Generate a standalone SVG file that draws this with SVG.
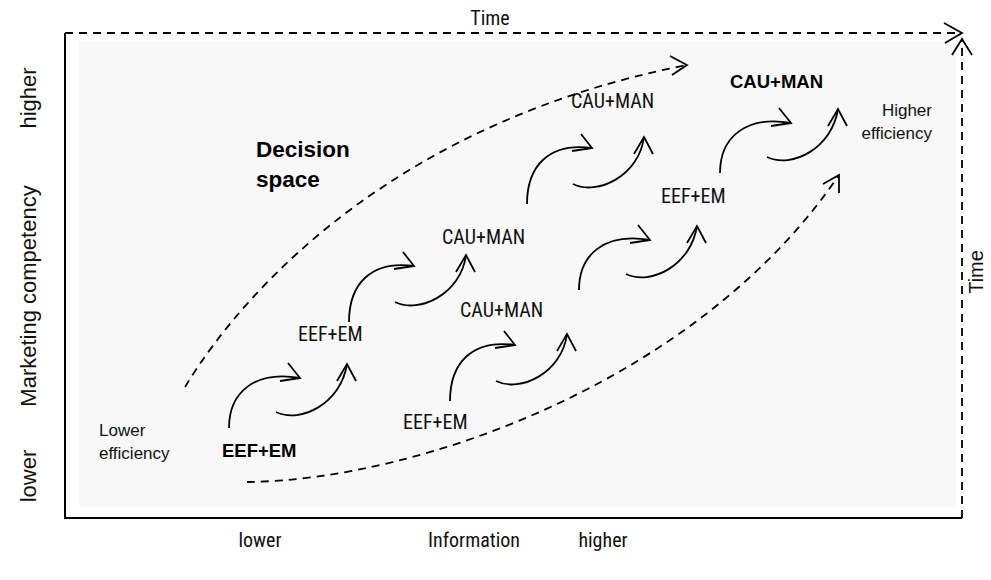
<svg xmlns="http://www.w3.org/2000/svg" xmlns:xlink="http://www.w3.org/1999/xlink" width="991" height="580" viewBox="0 0 991 580">
<style>
.ln{fill:none;stroke:#000;stroke-width:1.8}
.ds{fill:none;stroke:#000;stroke-width:1.8;stroke-dasharray:8 6}
.ax{fill:none;stroke:#000;stroke-width:2}
.nr{font-family:"Liberation Sans Narrow","Roboto Condensed","Arial Narrow",sans-serif;font-size:20px;fill:#111}
.bd{font-family:"Liberation Sans",Arial,sans-serif;font-weight:bold;fill:#000}
.ar{font-family:"Liberation Sans",Arial,sans-serif;fill:#111}
</style>
<defs>
<g id="pairA">
<path class="ln" d="M0,0 C0,-35 25,-58 71,-50"/>
<path class="ln" d="M59,-65 L71,-50 L51,-47"/>
<path class="ln" d="M47,-16 C72,-4 112,-25 118,-64"/>
<path class="ln" d="M108,-47 L118,-64 L127,-47"/>
</g>
<g id="pairB">
<path class="ln" d="M0,0 C0,-38 22,-62 65,-56"/>
<path class="ln" d="M54,-70 L65,-56 L45,-53"/>
<path class="ln" d="M46,-20 C70,-8 112,-28 117,-67"/>
<path class="ln" d="M107,-50 L117,-67 L126,-50"/>
</g>
</defs>
<rect x="0" y="0" width="991" height="580" fill="#fff"/>
<rect id="decision-area" x="79" y="41" width="877" height="466" fill="#f8f8f8"/>
<g id="axes">
<path class="ax" d="M65,33 V518 H962"/>
<path class="ds" d="M65,33 H960"/>
<path class="ln" d="M944,23 L962,33 L945,43"/>
<path class="ds" d="M962,518 V41"/>
<path class="ln" d="M952,55 L962,39 L972,55"/>
</g>
<g id="connectors">
<path class="ds" d="M185,387 C250,280 405,120 687,65"/>
<path class="ln" d="M670,56 L687,65 L672,75"/>
<path class="ds" d="M247,482 C420,480 700,380 839,175"/>
<path class="ln" d="M823,184 L839,175 L839,193"/>
<use xlink:href="#pairA" x="229" y="428"/>
<use xlink:href="#pairB" x="349" y="322"/>
<use xlink:href="#pairB" x="450" y="401"/>
<use xlink:href="#pairA" x="579" y="290"/>
<use xlink:href="#pairB" x="527" y="204"/>
<use xlink:href="#pairA" x="720" y="173"/>
</g>
<g id="axis-labels">
<text class="nr" x="490" y="25" text-anchor="middle" font-size="19">Time</text>
<text class="ar" font-size="20" text-anchor="middle" transform="translate(983,272) rotate(-90)">Time</text>
<text class="ar" font-size="22" text-anchor="middle" transform="translate(36,98) rotate(-90)">higher</text>
<text class="ar" font-size="22" text-anchor="middle" transform="translate(36,296) rotate(-90)">Marketing competency</text>
<text class="ar" font-size="22" text-anchor="middle" transform="translate(36,476) rotate(-90)">lower</text>
<text class="nr" x="260" y="547" text-anchor="middle">lower</text>
<text class="nr" x="474" y="547" text-anchor="middle">Information</text>
<text class="nr" x="603" y="547" text-anchor="middle">higher</text>
</g>
<g id="decision-space"><text class="bd" font-size="22.5" x="256" y="157">Decision</text><text class="bd" font-size="22.5" x="256" y="187">space</text></g>
<g id="lower-efficiency"><text class="ar" font-size="17" x="99" y="436">Lower</text><text class="ar" font-size="17" x="99" y="459">efficiency</text></g>
<g id="higher-efficiency"><text class="ar" font-size="17" x="932" y="116" text-anchor="end">Higher</text><text class="ar" font-size="17" x="932" y="139" text-anchor="end">efficiency</text></g>
<g id="eef-em-1"><text class="bd" font-size="18.5" x="222" y="457">EEF+EM</text></g>
<g id="eef-em-2"><text class="nr" x="298" y="341">EEF+EM</text></g>
<g id="eef-em-3"><text class="nr" x="403" y="429">EEF+EM</text></g>
<g id="eef-em-4"><text class="nr" x="661" y="203">EEF+EM</text></g>
<g id="cau-man-1"><text class="nr" x="442" y="244">CAU+MAN</text></g>
<g id="cau-man-2"><text class="nr" x="460" y="317">CAU+MAN</text></g>
<g id="cau-man-3"><text class="nr" x="571" y="108">CAU+MAN</text></g>
<g id="cau-man-4"><text class="bd" font-size="18.5" x="730" y="87.5">CAU+MAN</text></g>
</svg>
